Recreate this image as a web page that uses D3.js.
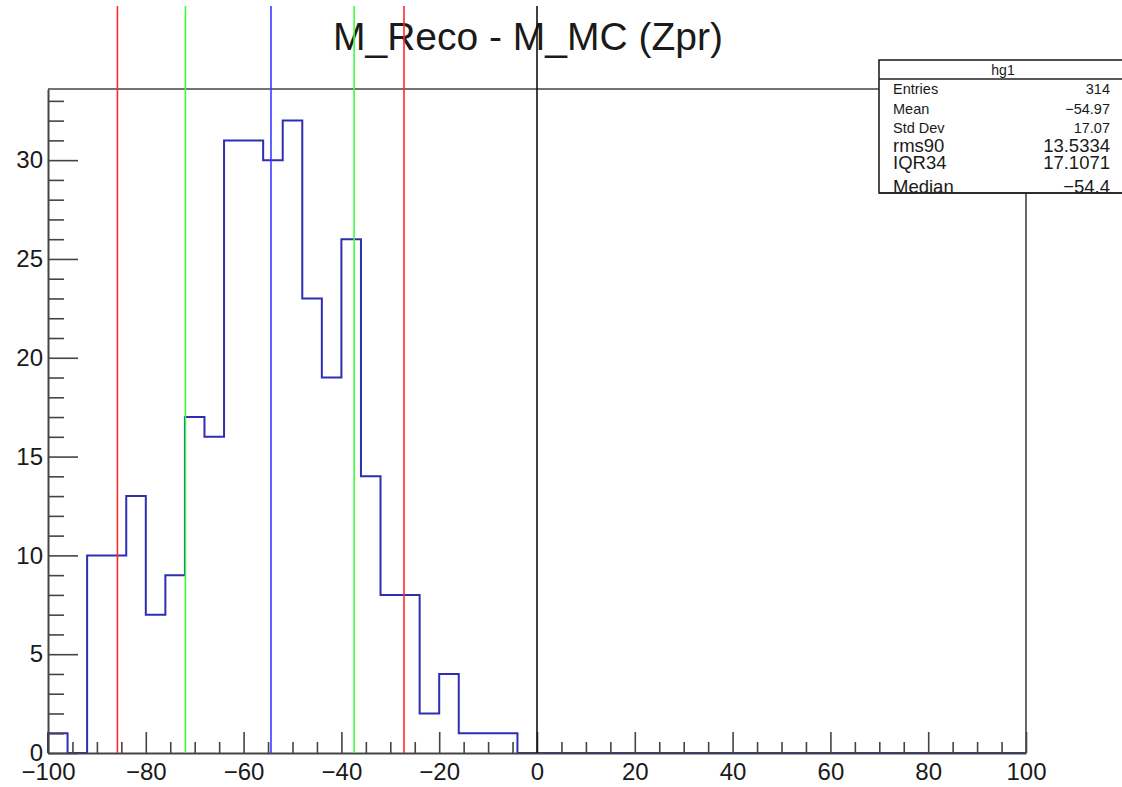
<!DOCTYPE html>
<html>
<head>
<meta charset="utf-8">
<script src="https://cdn.jsdelivr.net/npm/d3@7"></script>
<style>
  html, body { margin: 0; padding: 0; background: #fff; }
  svg { display: block; }
  text { font-family: "Liberation Sans", Arial, Helvetica, sans-serif; fill: #1a1a1a; }
</style>
</head>
<body>
<svg id="chart" width="1122" height="787"></svg>
<script>
// Histogram hg1: 50 bins of width 4 over [-100, 100]
const binLow = -100;
const binWidth = 4;
const binCounts = [
  1, 0, 10, 10, 13, 7, 9, 17, 16, 31,
  31, 30, 32, 23, 19, 26, 14, 8, 8, 2,
  4, 1, 1, 1, 0, 0, 0, 0, 0, 0,
  0, 0, 0, 0, 0, 0, 0, 0, 0, 0,
  0, 0, 0, 0, 0, 0, 0, 0, 0, 0
];

// Reference markers (x position, colour)
const markerX = [-85.8, -71.9, -54.4, -37.4, -27.2, 0];
const markerColor = ["#ff2a2a", "#3cff3c", "#3a3aff", "#3cff3c", "#ff2a2a", "#111111"];

// Statistics box
const statNames = ["Entries", "Mean", "Std Dev", "rms90", "IQR34", "Median"];
const statValues = ["314", "\u221254.97", "17.07", "13.5334", "17.1071", "\u221254.4"];
const statSizes = [14.5, 14.5, 14.5, 18.5, 18.5, 18.5];
const statBaselines = [94, 114, 133, 152, 169, 193];

const xTicksMajor = [-100, -80, -60, -40, -20, 0, 20, 40, 60, 80, 100];
const yTicksMajor = [0, 5, 10, 15, 20, 25, 30];

const svg = d3.select("#chart");
const L = 48, R = 1026, T = 89, B = 753;
const yMax = 33.6;

const x = d3.scaleLinear().domain([-100, 100]).range([L, R]);
const y = d3.scaleLinear().domain([0, yMax]).range([B, T]);

const axisColor = "#444";

// Title
svg.append("text")
  .attr("x", 528).attr("y", 50)
  .attr("text-anchor", "middle")
  .style("font-size", "39px")
  .text("M_Reco - M_MC (Zpr)");

// Histogram outline as a step path (axes are drawn over it afterwards)
const pts = [[x(binLow), y(0)]];
binCounts.forEach((c, i) => {
  const x0 = binLow + i * binWidth, x1 = x0 + binWidth;
  pts.push([x(x0), y(c)], [x(x1), y(c)]);
});
pts.push([x(100), y(0)]);
svg.append("path")
  .attr("d", d3.line()(pts))
  .attr("fill", "none")
  .attr("stroke", "#2e2eb4")
  .attr("stroke-width", 2);

// Frame: top and right borders
svg.append("line").attr("x1", L).attr("x2", 879).attr("y1", T).attr("y2", T)
  .attr("stroke", axisColor).attr("stroke-width", 1.6);
svg.append("line").attr("x1", R).attr("x2", R).attr("y1", 193).attr("y2", B)
  .attr("stroke", axisColor).attr("stroke-width", 1.6);

// X axis: major ticks with labels, minor ticks every 5
const gx = svg.append("g").attr("transform", `translate(0,${B})`);
gx.call(d3.axisBottom(x).tickValues(d3.range(-100, 101, 5).filter(v => v % 20 !== 0))
  .tickSizeInner(-11).tickSizeOuter(0).tickFormat(""));
gx.call(g => g.selectAll(".domain").remove());
const gxMaj = svg.append("g").attr("transform", `translate(0,${B})`);
gxMaj.call(d3.axisBottom(x).tickValues(xTicksMajor)
  .tickSizeInner(-21).tickSizeOuter(0).tickPadding(10)
  .tickFormat(d3.format("d")));
gxMaj.selectAll("text").style("font-size", "24px").attr("fill", "#1a1a1a");
[gx, gxMaj].forEach(g => {
  g.selectAll(".tick line").attr("stroke", axisColor).attr("stroke-width", 1.6);
});
gxMaj.select(".domain").attr("stroke", axisColor).attr("stroke-width", 2);

// Y axis: major ticks every 5 with labels, minor every 1
const gy = svg.append("g").attr("transform", `translate(${L},0)`);
gy.call(d3.axisLeft(y).tickValues(d3.range(0, 34, 1).filter(v => v % 5 !== 0))
  .tickSizeInner(-16).tickSizeOuter(0).tickFormat(""));
gy.call(g => g.selectAll(".domain").remove());
const gyMaj = svg.append("g").attr("transform", `translate(${L},0)`);
gyMaj.call(d3.axisLeft(y).tickValues(yTicksMajor)
  .tickSizeInner(-30).tickSizeOuter(0).tickPadding(5)
  .tickFormat(d3.format("d")));
gyMaj.selectAll("text").style("font-size", "24px").attr("fill", "#1a1a1a");
[gy, gyMaj].forEach(g => {
  g.selectAll(".tick line").attr("stroke", axisColor).attr("stroke-width", 1.6);
});
gyMaj.select(".domain").attr("stroke", axisColor).attr("stroke-width", 2);

// Vertical marker lines
svg.append("g").selectAll("line")
  .data(markerX)
  .join("line")
  .attr("x1", d => x(d)).attr("x2", d => x(d))
  .attr("y1", 6).attr("y2", B)
  .attr("stroke", (d, i) => markerColor[i])
  .attr("stroke-width", 1.6);

// Statistics box
const box = svg.append("g");
box.append("rect")
  .attr("x", 879).attr("y", 60).attr("width", 250).attr("height", 133)
  .attr("fill", "#fff").attr("stroke", "#222").attr("stroke-width", 1.6);
box.append("line").attr("x1", 879).attr("x2", 1129).attr("y1", 79).attr("y2", 79)
  .attr("stroke", "#222").attr("stroke-width", 1.4);
box.append("text").attr("x", 1003).attr("y", 75).attr("text-anchor", "middle")
  .style("font-size", "14px").text("hg1");
statNames.forEach((n, i) => {
  box.append("text").attr("x", 893).attr("y", statBaselines[i])
    .style("font-size", statSizes[i] + "px").text(n);
  box.append("text").attr("x", 1110).attr("y", statBaselines[i])
    .attr("text-anchor", "end")
    .style("font-size", statSizes[i] + "px").text(statValues[i]);
});
// bottom border drawn over the last row
box.append("line").attr("x1", 879).attr("x2", 1129).attr("y1", 193).attr("y2", 193)
  .attr("stroke", "#222").attr("stroke-width", 1.6);
</script>
</body>
</html>
